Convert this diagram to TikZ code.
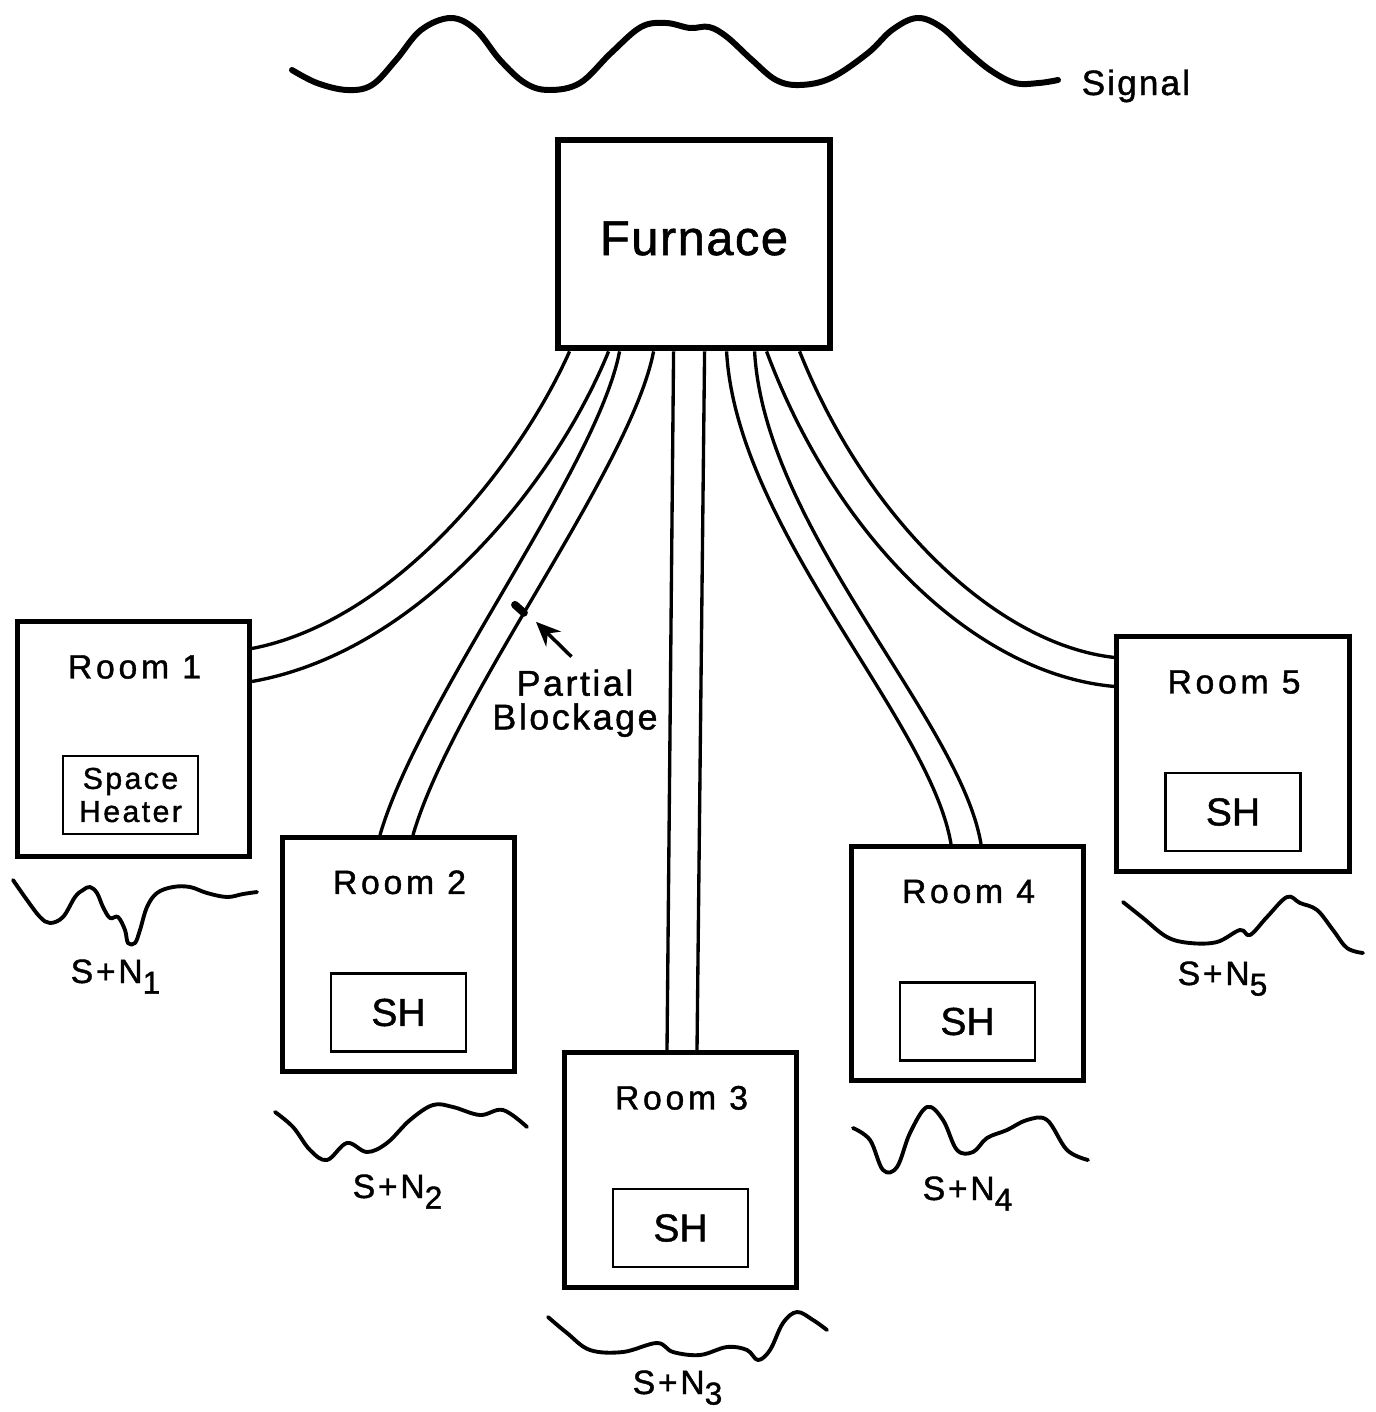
\documentclass[tikz,border=0pt]{standalone}
\usepackage{fontspec}
\setmainfont{Liberation Sans}[FakeBold=1.2]
\usepackage{tikz}
\usetikzlibrary{arrows.meta,positioning,calc}

\newcommand{\nsub}[1]{\raisebox{-3pt}{\fontsize{9}{9}\selectfont #1}}

\tikzset{
  box/.style={draw,line width=1.4pt,inner sep=0pt,minimum width=2.32cm,minimum height=2.34cm},
  furnacebox/.style={draw,line width=1.9pt,inner sep=0pt,minimum width=2.72cm,minimum height=2.08cm},
  heater/.style={draw,line width=0.8pt,inner sep=0pt,minimum width=1.35cm,minimum height=0.78cm,
    font=\fontsize{11.1}{13}\selectfont},
  roomlbl/.style={anchor=base,inner sep=0pt,font=\fontsize{9.6}{10}\selectfont\addfontfeatures{LetterSpace=11}},
  snlbl/.style={anchor=base west,inner sep=0pt,font=\fontsize{9.6}{10}\selectfont\addfontfeatures{LetterSpace=8}},
  duct/.style={line width=0.95pt},
  wave/.style={line width=1.1pt,line cap=round,line join=round},
  pointer/.style={-{Stealth[length=7pt,width=6pt]},line width=1pt},
}

\begin{document}
\begin{tikzpicture}[x=0.01cm,y=-0.01cm]
\useasboundingbox (0,0) rectangle (1375,1412);

% signal
\draw[line width=1.7pt,line cap=round,line join=round] plot[smooth,tension=0.6] coordinates {
  (292,70) (317,83) (347,90) (372,85) (396,60) (421,30) (451,18) (476,30) (500,60) (525,83)
  (549,90) (580,83) (611,53) (641,27) (666,23) (690,28) (709,27) (727,37) (752,60) (776,80)
  (800,85) (831,78) (868,53) (892,30) (917,18) (941,27) (966,50) (990,70) (1015,83) (1039,83) (1058,80)};
\node[anchor=base west,inner sep=0pt,font=\fontsize{10}{12}\selectfont\addfontfeatures{LetterSpace=6}] (sig) at (1081,95) {Signal};

% furnace and rooms
\node[furnacebox] (fur) at (694,244) {};
\node[anchor=base,inner sep=0pt,font=\fontsize{13.9}{16}\selectfont\addfontfeatures{LetterSpace=3}] (furlbl) at (694,255) {Furnace};

\node[box] (r1) at (133.5,739) {};
\node[box] (r2) at (398.5,954.5) {};
\node[box] (r3) at (680.5,1170) {};
\node[box] (r4) at (967.5,963.5) {};
\node[box] (r5) at (1233,754) {};

\foreach \i in {1,...,5}
  \node[roomlbl] (rl\i) at ($(r\i.north)+(1,59)$) {Room \i};

\node[heater,align=center,font=\fontsize{8.6}{9.4}\selectfont\addfontfeatures{LetterSpace=8}] (sh1) at ($(r1.center)+(-3,56)$) {Space\\Heater};
\foreach \i in {2,...,5}
  \node[heater] (sh\i) at ($(r\i.center)+(0,58)$) {SH};

% duct ends
\foreach \dx [count=\i] in {15,54,65,99,119,150,172,200,212,245}
  \coordinate (out\i) at ($(fur.south west)+(\dx,0)$);
\coordinate (in1a) at ($(r1.north east)+(0,29)$);
\coordinate (in1b) at ($(r1.north east)+(0,62)$);
\coordinate (in2a) at ($(r2.north)+(-18.5,0)$);
\coordinate (in2b) at ($(r2.north)+(14.5,0)$);
\coordinate (in3a) at ($(r3.north)+(-13.5,0)$);
\coordinate (in3b) at ($(r3.north)+(16.5,0)$);
\coordinate (in4a) at ($(r4.north)+(-16.5,0)$);
\coordinate (in4b) at ($(r4.north)+(13.5,0)$);
\coordinate (in5a) at ($(r5.north west)+(0,23)$);
\coordinate (in5b) at ($(r5.north west)+(0,52)$);

% ducts
\draw[duct] (out1) .. controls ($(out1)+(-53,118)$) and ($(in1a)+(140,-27)$) .. (in1a);
\draw[duct] (out2) .. controls ($(out2)+(-52,128)$) and ($(in1b)+(170,-30)$) .. (in1b);
\draw[duct] (out3) .. controls ($(out3)+(-23,118)$) and ($(in2a)+(40,-137)$) .. (in2a);
\draw[duct] (out4) .. controls ($(out4)+(-23,118)$) and ($(in2b)+(40,-137)$) .. (in2b)
  coordinate[pos=0.55] (clog);
\draw[duct] (out5) -- (in3a);
\draw[duct] (out6) -- (in3b);
\draw[duct] (out7) .. controls ($(out7)+(10,178)$) and ($(in4a)+(-21,-125)$) .. (in4a);
\draw[duct] (out8) .. controls ($(out8)+(10,178)$) and ($(in4b)+(-21,-125)$) .. (in4b);
\draw[duct] (out9) .. controls ($(out9)+(70,188)$) and ($(in5b)+(-138,-12)$) .. (in5b);
\draw[duct] (out10) .. controls ($(out10)+(67,168)$) and ($(in5a)+(-118,-13)$) .. (in5a);

% blockage
\draw[line width=2.2pt,line cap=round] (clog) -- ++(-9,-8);
\coordinate (tipb) at ($(clog)+(12,9)$);
\node[align=center,anchor=north,inner sep=0pt,font=\fontsize{10.2}{9.6}\selectfont\addfontfeatures{LetterSpace=7}] (pb) at (575,669) {Partial\\Blockage};
\draw[pointer] ([xshift=-1pt,yshift=3.5pt]pb.north) -- (tipb);

% signal + noise in each room
\draw[wave] plot[smooth,tension=0.6] coordinates {(13,880) (27,900) (40,917) (50,923) (63,917) (75,897) (83,890) (90,887) (97,893) (103,907) (110,918) (118,917) (125,930) (128,943) (135,943) (140,930) (147,907) (157,893) (173,887) (190,887) (207,893) (227,897) (243,894) (257,892)};
\draw[wave] plot[smooth,tension=0.6] coordinates {(275,1112) (293,1127) (310,1150) (327,1160) (347,1143) (367,1152) (387,1143) (410,1120) (433,1105) (453,1107) (480,1115) (503,1110) (527,1127)};
\draw[wave] plot[smooth,tension=0.6] coordinates {(548,1317) (567,1333) (590,1350) (623,1352) (657,1343) (673,1352) (700,1355) (727,1347) (747,1350) (758,1360) (770,1350) (783,1323) (797,1312) (813,1320) (827,1330)};
\draw[wave] plot[smooth,tension=0.6] coordinates {(853,1128) (870,1140) (883,1170) (897,1167) (910,1133) (927,1107) (943,1120) (957,1150) (973,1152) (987,1138) (1007,1130) (1027,1120) (1047,1120) (1067,1150) (1088,1160)};
\draw[wave] plot[smooth,tension=0.6] coordinates {(1123,902) (1143,918) (1167,937) (1190,943) (1217,942) (1240,930) (1250,935) (1267,917) (1287,897) (1300,903) (1317,910) (1333,930) (1347,948) (1363,953)};

\node[snlbl] (sn1) at (70,983) {S+N\nsub{1}};
\node[snlbl] (sn2) at (352,1198) {S+N\nsub{2}};
\node[snlbl] (sn3) at (632,1394) {S+N\nsub{3}};
\node[snlbl] (sn4) at (922,1200) {S+N\nsub{4}};
\node[snlbl] (sn5) at (1177,985) {S+N\nsub{5}};
\end{tikzpicture}
\end{document}
